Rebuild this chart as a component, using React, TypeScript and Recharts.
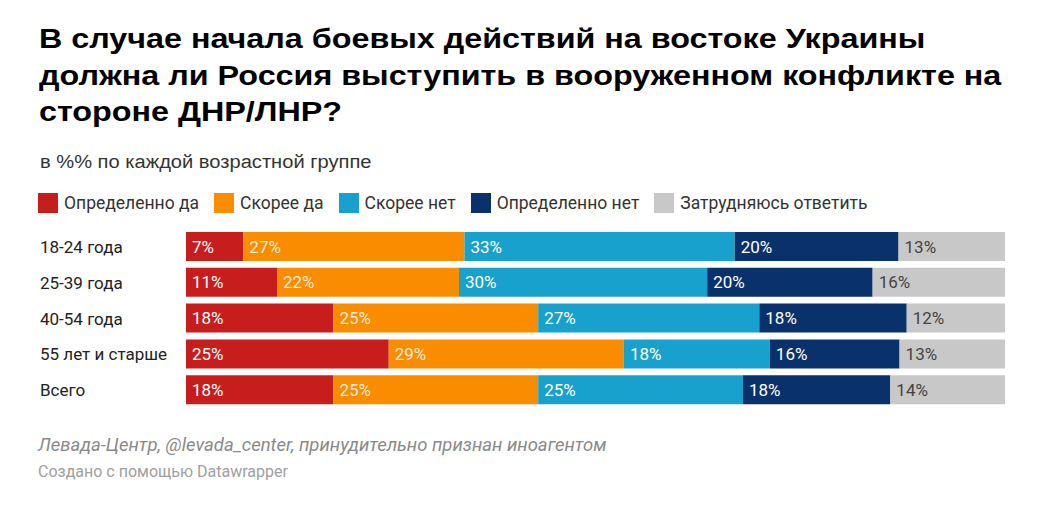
import React from 'react'
import { BarChart, Bar, XAxis, YAxis, LabelList } from 'recharts'

const categories = ['18-24 года', '25-39 года', '40-54 года', '55 лет и старше', 'Всего']
const definitelyYes = [7, 11, 18, 25, 18]
const ratherYes = [27, 22, 25, 29, 25]
const ratherNo = [33, 30, 27, 18, 25]
const definitelyNo = [20, 20, 18, 16, 18]
const hardToSay = [13, 16, 12, 13, 14]

const seriesNames = ['Определенно да', 'Скорее да', 'Скорее нет', 'Определенно нет', 'Затрудняюсь ответить']
const seriesKeys = ['dy', 'ry', 'rn', 'dn', 'hs']
const seriesColors = ['#c71e1d', '#fa8c00', '#18a1cd', '#09326c', '#c8c8c8']
const seriesValues = [definitelyYes, ratherYes, ratherNo, definitelyNo, hardToSay]

const titleLines = [
  'В случае начала боевых действий на востоке Украины',
  'должна ли Россия выступить в вооруженном конфликте на',
  'стороне ДНР/ЛНР?'
]

const data = categories.map((name, i) => ({
  name,
  dy: definitelyYes[i],
  ry: ratherYes[i],
  rn: ratherNo[i],
  dn: definitelyNo[i],
  hs: hardToSay[i]
}))

const font = 'Roboto, sans-serif'
const arial = '"Liberation Sans", Arial, sans-serif'

const CategoryTick = ({ y, payload }: any) => (
  <text x={40} y={y} dy={6} textAnchor="start" fontFamily={font} fontSize={17} fill="#222">
    {payload.value}
  </text>
)

const makeLabel = (s: number) => (props: any) => {
  const { x, y, height, index } = props
  return (
    <text
      x={x + 6}
      y={y + height / 2}
      dy={6}
      fontFamily={font}
      fontSize={17}
      fill={s === 4 ? '#444' : '#fff'}
      fillOpacity={s === 1 ? 0.85 : 1}
    >
      {seriesValues[s][index]}%
    </text>
  )
}

export default function App() {
  return (
    <div style={{ position: 'absolute', left: 0, top: 0, width: 1045, height: 517, background: '#fff', fontFamily: font, overflow: 'hidden' }}>
      <div
        style={{
          position: 'absolute',
          left: 39,
          top: 21,
          fontFamily: arial,
          fontWeight: 700,
          fontSize: 27,
          lineHeight: '36.5px',
          color: '#000',
          whiteSpace: 'nowrap',
          transform: 'scaleX(1.196)',
          transformOrigin: 'left top'
        }}
      >
        {titleLines.map((l) => (
          <div key={l}>{l}</div>
        ))}
      </div>
      <div
        style={{
          position: 'absolute',
          left: 40,
          top: 152,
          fontFamily: arial,
          fontSize: 18,
          color: '#333',
          whiteSpace: 'nowrap',
          transform: 'scaleX(1.117)',
          transformOrigin: 'left top'
        }}
      >
        в %% по каждой возрастной группе
      </div>

      {/* legend */}
      <div style={{ position: 'absolute', left: 38, top: 193, display: 'flex', alignItems: 'center' }}>
        {seriesNames.map((n, i) => (
          <div key={n} style={{ display: 'flex', alignItems: 'center', marginRight: 15 }}>
            <div style={{ width: 20, height: 20, background: seriesColors[i], marginRight: 6 }} />
            <span style={{ fontSize: 17.5, color: '#333' }}>{n}</span>
          </div>
        ))}
      </div>

      <div style={{ position: 'absolute', left: 0, top: 229 }}>
        <BarChart
          width={1045}
          height={179}
          data={data}
          layout="vertical"
          stackOffset="expand"
          margin={{ top: 0, right: 40, bottom: 0, left: 0 }}
        >
          <XAxis type="number" hide />
          <YAxis
            type="category"
            dataKey="name"
            width={186}
            axisLine={false}
            tickLine={false}
            tick={<CategoryTick />}
          />
          {seriesKeys.map((k, s) => (
            <Bar key={k} dataKey={k} stackId="a" fill={seriesColors[s]} barSize={29} isAnimationActive={false}>
              <LabelList dataKey={k} content={makeLabel(s)} />
            </Bar>
          ))}
        </BarChart>
      </div>

      <div style={{ position: 'absolute', left: 38, top: 434, fontSize: 18.5, fontStyle: 'italic', color: '#8a8a8a', whiteSpace: 'nowrap' }}>
        Левада-Центр, @levada_center, принудительно признан иноагентом
      </div>
      <div style={{ position: 'absolute', left: 38, top: 462, fontSize: 16, color: '#a0a0a0', whiteSpace: 'nowrap' }}>
        Создано с помощью Datawrapper
      </div>
    </div>
  )
}
